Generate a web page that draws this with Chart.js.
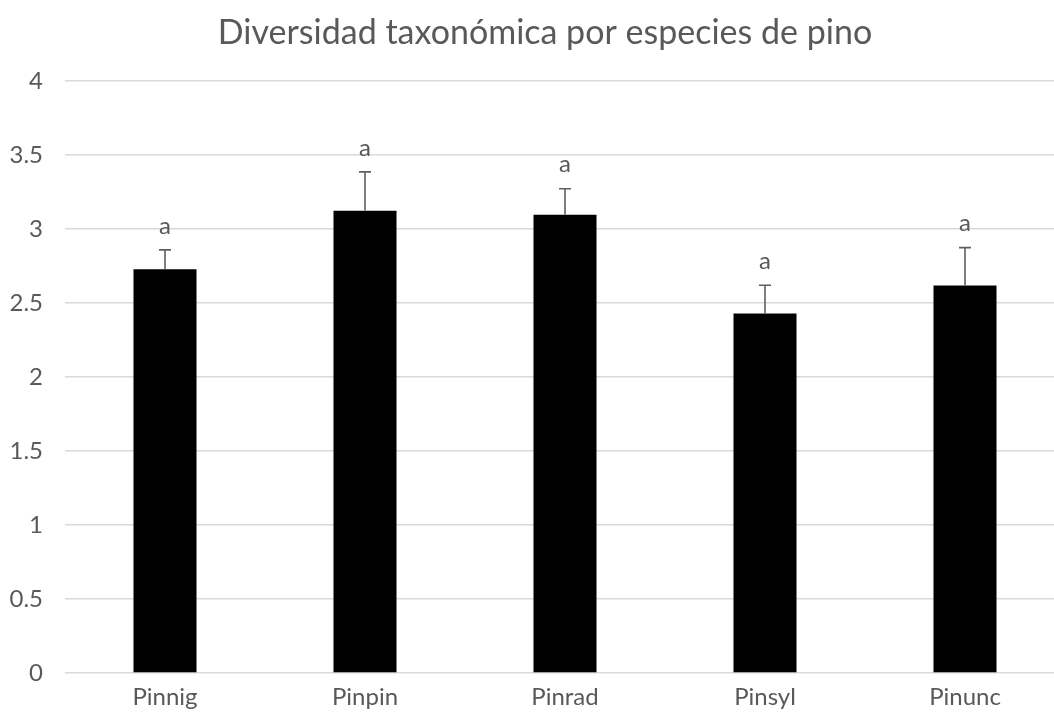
<!DOCTYPE html>
<html>
<head>
<meta charset="utf-8">
<script src="https://cdn.jsdelivr.net/npm/chart.js@4.4.1/dist/chart.umd.min.js"></script>
<style>
  html, body { margin: 0; padding: 0; background: #fff; overflow: hidden; }
  #wrap { width: 1054px; height: 715px; overflow: hidden; }
</style>
</head>
<body>
<div id="wrap"><canvas id="chart" width="1090" height="730"></canvas></div>
<script>
const species = ['Pinnig', 'Pinpin', 'Pinrad', 'Pinsyl', 'Pinunc'];
const diversity = [2.727, 3.122, 3.096, 2.428, 2.618];
const errPlus = [0.131, 0.263, 0.175, 0.191, 0.255];
const letters = ['a', 'a', 'a', 'a', 'a'];
const yTicks = [0, 0.5, 1, 1.5, 2, 2.5, 3, 3.5, 4];

const textGrey = '#595959';
const fontFam = 'Lato, "Open Sans", sans-serif';

// error bars (upper only) and the significance letters above them
const errorBars = {
    id: 'errorBars',
    afterDatasetsDraw(chart) {
        const ctx = chart.ctx;
        const y = chart.scales.y;
        const meta = chart.getDatasetMeta(0);
        ctx.save();
        meta.data.forEach((bar, i) => {
            const x = bar.x;
            const top = y.getPixelForValue(diversity[i] + errPlus[i]);
            ctx.strokeStyle = '#5f5f5f';
            ctx.lineWidth = 1.6;
            ctx.beginPath();
            ctx.moveTo(x, bar.y);
            ctx.lineTo(x, top);
            ctx.moveTo(x - 6, top);
            ctx.lineTo(x + 6, top);
            ctx.stroke();

            ctx.fillStyle = textGrey;
            ctx.font = '24px ' + fontFam;
            ctx.textAlign = 'center';
            ctx.textBaseline = 'middle';
            ctx.fillText(letters[i], x, top - 24);
        });
        ctx.restore();
    }
};

new Chart(document.getElementById('chart'), {
    type: 'bar',
    data: {
        labels: species,
        datasets: [{
            data: diversity,
            backgroundColor: '#000000',
            borderWidth: 0,
            categoryPercentage: 1,
            barPercentage: 0.315
        }]
    },
    options: {
        responsive: false,
        animation: false,
        layout: { padding: 0 },
        plugins: {
            legend: { display: false },
            tooltip: { enabled: false },
            title: {
                display: true,
                text: 'Diversidad taxonómica por especies de pino',
                color: textGrey,
                font: { family: fontFam, size: 34, weight: 'normal' },
                padding: { top: 13, bottom: 27 }
            }
        },
        scales: {
            x: {
                grid: { display: false },
                border: { display: false },
                ticks: { color: textGrey, font: { family: fontFam, size: 24 }, padding: 2 },
                afterFit: s => { s.height = 57; }
            },
            y: {
                min: 0,
                max: 4,
                afterBuildTicks: s => { s.ticks = yTicks.map(v => ({ value: v })); },
                grid: { color: '#d9d9d9', lineWidth: 1.5, drawTicks: false },
                border: { display: false },
                ticks: {
                    color: textGrey,
                    font: { family: fontFam, size: 24 },
                    padding: 22,
                    callback: v => String(v)
                },
                afterFit: s => { s.width = 65; }
            },
            yRight: {
                position: 'right',
                display: true,
                grid: { display: false },
                border: { display: false },
                ticks: { display: false },
                afterFit: s => { s.width = 25; }
            }
        }
    },
    plugins: [errorBars]
});
</script>
</body>
</html>
